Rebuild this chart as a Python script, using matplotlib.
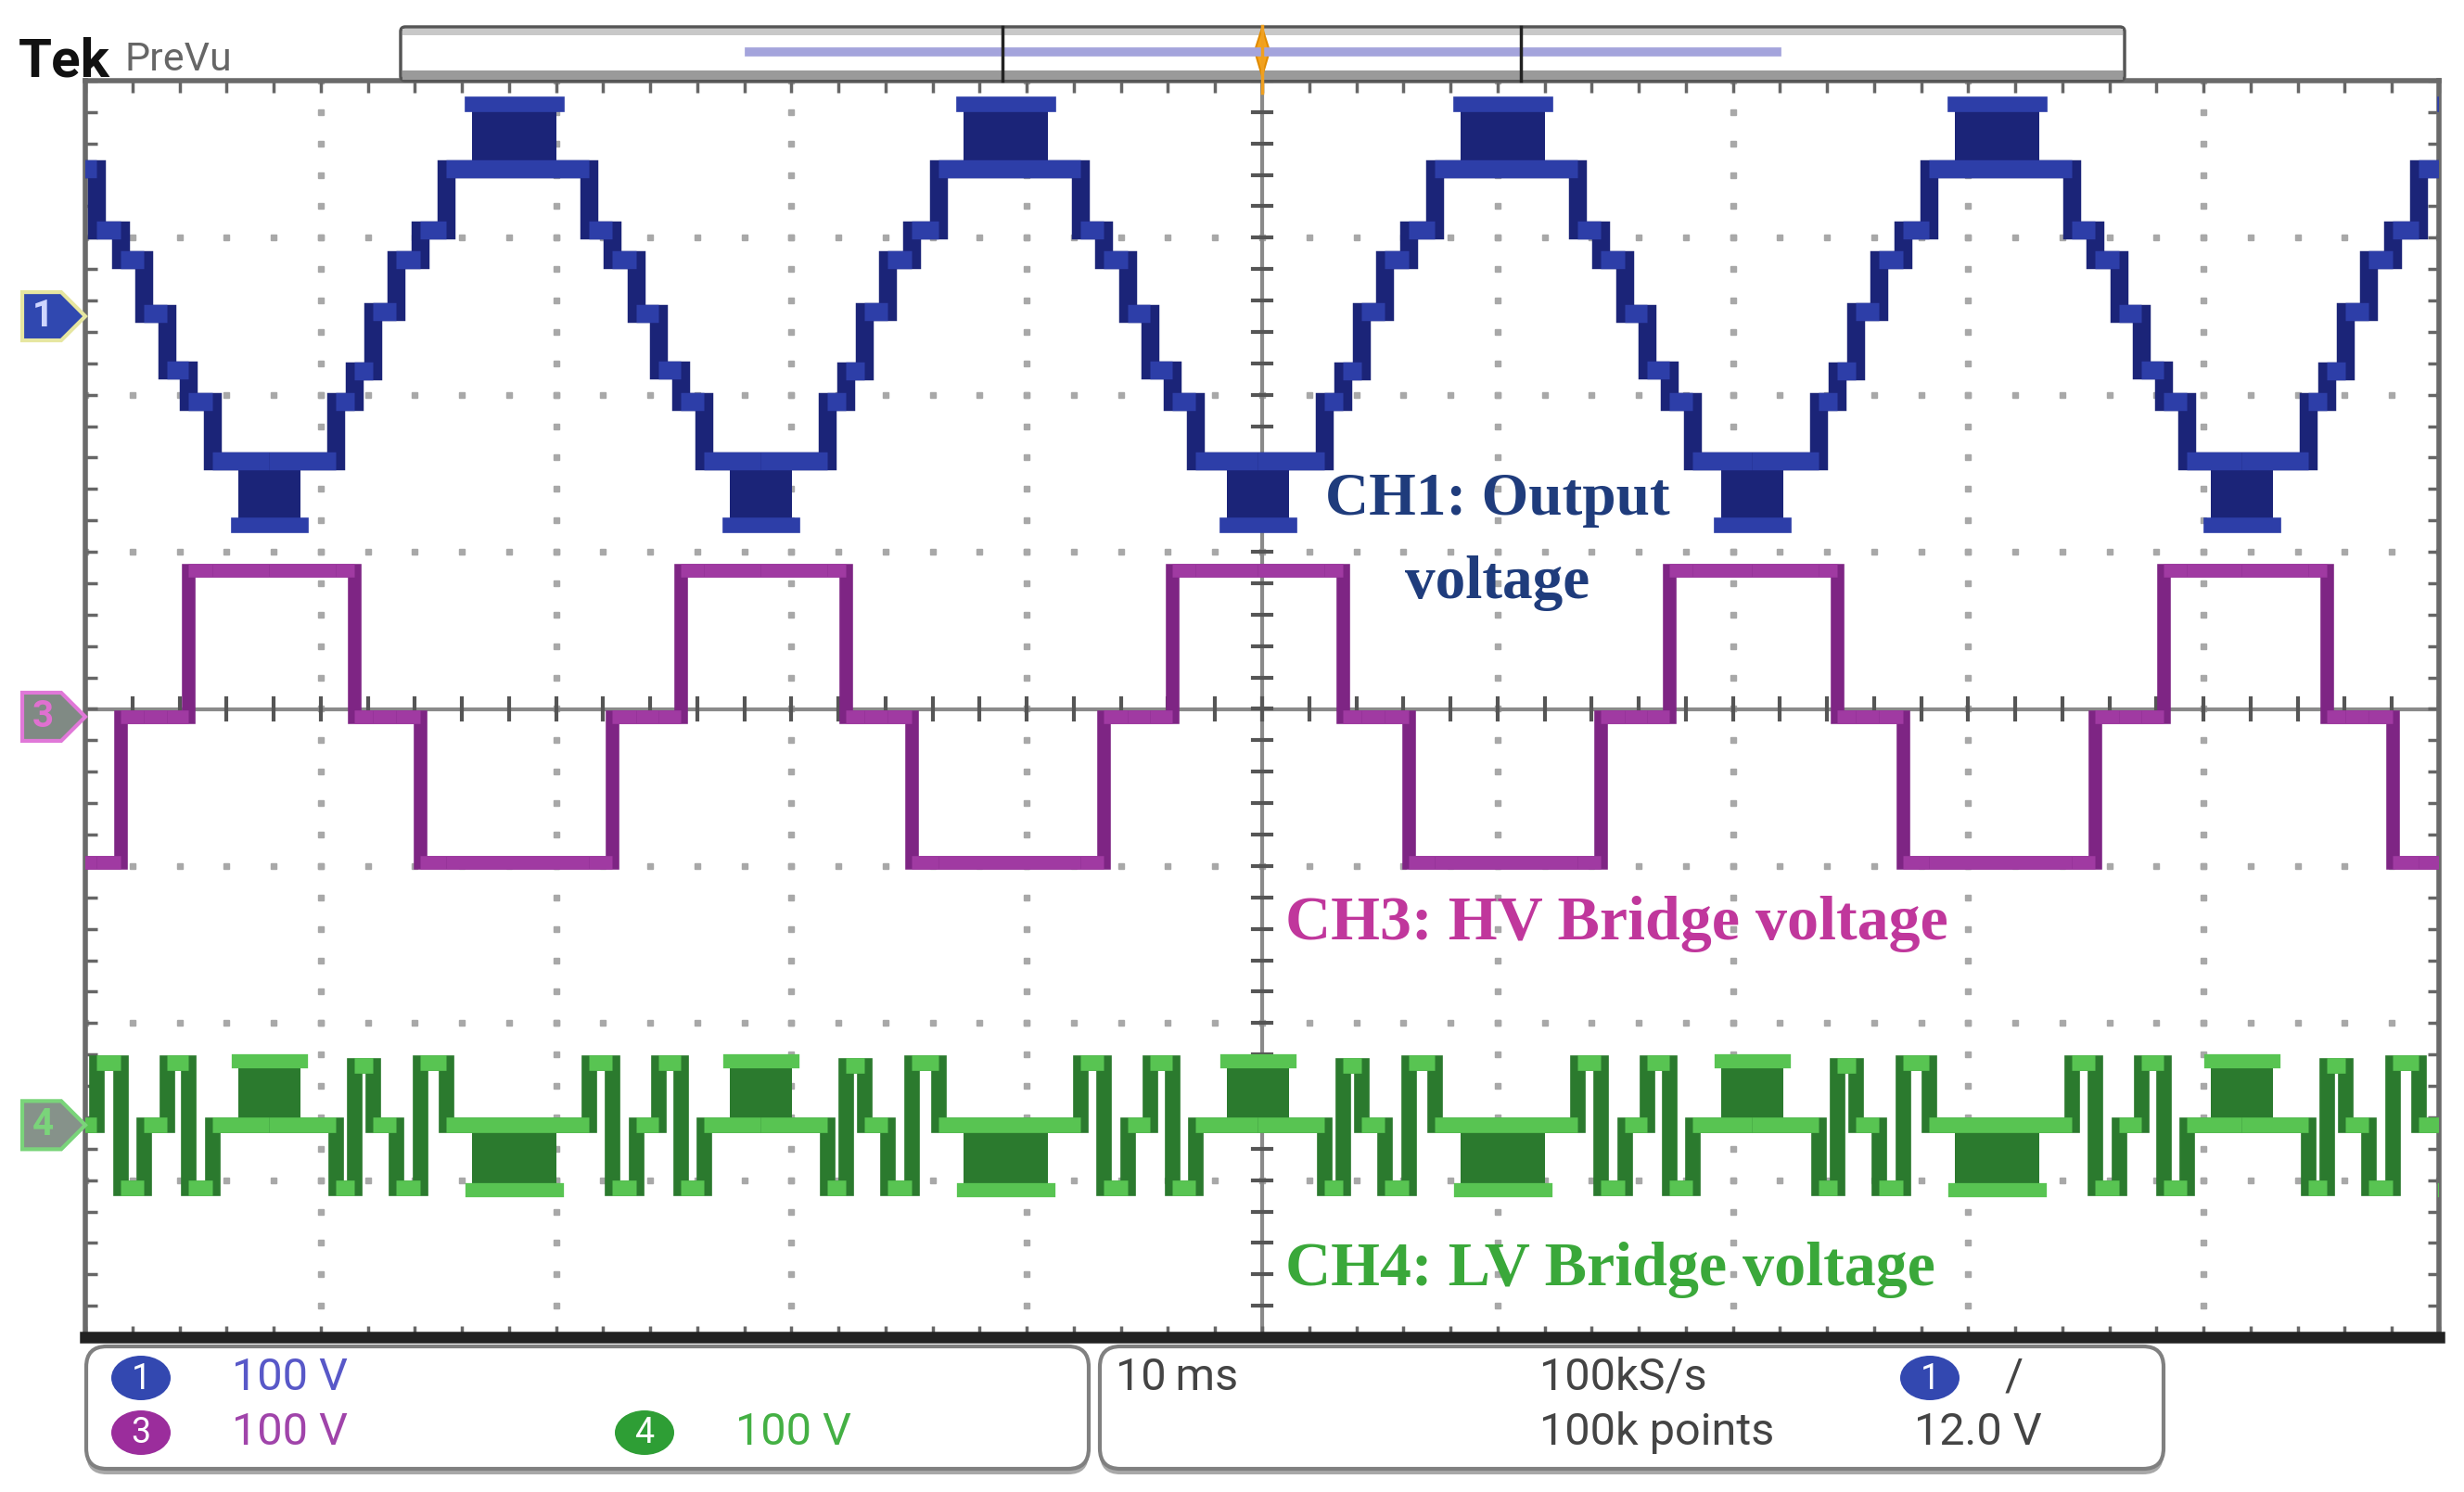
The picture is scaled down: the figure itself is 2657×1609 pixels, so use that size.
import numpy as np
import matplotlib.pyplot as plt
from matplotlib import transforms
from matplotlib.patches import FancyBboxPatch, Polygon, Ellipse
from matplotlib.collections import LineCollection

plt.rcParams['font.family'] = ['Roboto', 'DejaVu Sans']

# ---- values: time in ms (10 ms/div), amplitude in divisions ----
# centre of each CH1 trough (start of each period)
troughs_ms = [-13.1, 7.8, 28.7, 49.8, 70.8, 91.6, 112.5]

# switching instants within one period, measured from the trough centre
edges_ms = [0.0, 2.84, 3.62, 4.41, 5.40, 6.42, 7.53, 13.59, 14.58, 15.60, 16.55, 17.49, 18.48]

# level held after each switching instant (div, relative to channel ground)
ch1_levels = [-0.92, -0.54, -0.35, 0.03, 0.36, 0.55, 0.94, 0.55, 0.36, 0.02, -0.34, -0.54, -0.92]
ch3_levels = [0.93, 0.93, 0.0, 0.0, 0.0, -0.93, -0.93, -0.93, 0.0, 0.0, 0.0, 0.93, 0.93]
ch4_levels = [0.0, -0.40, 0.38, 0.0, -0.40, 0.40, 0.0, 0.40, -0.40, 0.0, 0.40, -0.40, 0.0]

# PWM chopping windows (ms from trough centre) and their far level
pwm_trough = (-1.30, 1.34)
pwm_peak = (8.63, 12.21)
ch1_pwm = (-1.33, 1.35)     # at trough, at peak
ch4_pwm = (0.41, -0.41)

# channel ground positions (div)
ch1_off, ch3_off, ch4_off = 2.5, -0.05, -2.65

c1, c1d = '#2d3ea8', '#1b2478'
c3, c3d = '#a03aa2', '#7e2584'
c4, c4d = '#58c452', '#2b7a2e'


def staircase(levels):
    t, v, segs = [], [], []
    for t0, t1 in zip(troughs_ms[:-1], troughs_ms[1:]):
        starts = [t0 + e for e in edges_ms]
        ends = starts[1:] + [t1]
        for a, b, lv in zip(starts, ends, levels):
            t += [a, b]
            v += [lv, lv]
            segs.append([(a, lv), (b, lv)])
    return np.array(t), np.array(v), segs


fig = plt.figure(figsize=(26.57, 16.09), dpi=100)
ax = fig.add_axes([92 / 2657, 1 - 1442 / 1609, (2630 - 92) / 2657, (1442 - 87) / 1609])
ax.set_xlim(0, 100)
ax.set_ylim(-4, 4)

# dotted graticule
for i in range(1, 10):
    if i == 5:
        continue
    ys = np.arange(-4, 4.01, 0.2)
    ax.plot(np.full_like(ys, i * 10), ys, ls='none', marker='s', ms=4, color='#a8a8a8', zorder=1)
for j in [-3, -2, -1, 1, 2, 3]:
    xs = np.arange(0, 100.1, 2)
    ax.plot(xs, np.full_like(xs, j), ls='none', marker='s', ms=4, color='#a8a8a8', zorder=1)

# centre crosshair with ticks
ax.axhline(0, color='#8a8a8a', lw=3, zorder=1)
ax.axvline(50, color='#8a8a8a', lw=3, zorder=1)
for x in np.arange(0, 100.1, 2):
    ax.plot([x, x], [-0.07, 0.07], color='#555', lw=3, zorder=1)
for y in np.arange(-4, 4.01, 0.2):
    ax.plot([49.6, 50.4], [y, y], color='#555', lw=3, zorder=1)

# frame ticks
ax.set_xticks(np.arange(0, 100.1, 2))
ax.set_yticks(np.arange(-4, 4.01, 0.2))
ax.tick_params(direction='in', length=9, width=2.5, color='#666', top=True, right=True,
               labelbottom=False, labelleft=False)
for s in ax.spines.values():
    s.set_color('#6a6a6a')
    s.set_linewidth(4)
ax.spines['bottom'].set_color('#222')
ax.spines['bottom'].set_linewidth(9)

# CH3
t, v, segs = staircase(ch3_levels)
ax.plot(t, v + ch3_off, color=c3d, lw=10.5, solid_joinstyle='miter', zorder=3)
ax.add_collection(LineCollection([[(a, y + ch3_off) for a, y in s] for s in segs],
                                 colors=c3, linewidths=10.5, zorder=4))

# CH1
for t0 in troughs_ms:
    a, b = t0 + pwm_trough[0], t0 + pwm_trough[1]
    ax.fill_between([a, b], ch1_levels[0] + ch1_off, ch1_pwm[0] + ch1_off, color=c1d, lw=0, zorder=3)
    ax.plot([a, b], [ch1_pwm[0] + ch1_off] * 2, color=c1, lw=12, zorder=4)
    a, b = t0 + pwm_peak[0], t0 + pwm_peak[1]
    ax.fill_between([a, b], ch1_levels[6] + ch1_off, ch1_pwm[1] + ch1_off, color=c1d, lw=0, zorder=3)
    ax.plot([a, b], [ch1_pwm[1] + ch1_off] * 2, color=c1, lw=12, zorder=4)
t, v, segs = staircase(ch1_levels)
ax.plot(t, v + ch1_off, color=c1d, lw=14, solid_joinstyle='miter', zorder=4)
ax.add_collection(LineCollection([[(a, y + ch1_off) for a, y in s] for s in segs],
                                 colors=c1, linewidths=14, zorder=5))

# CH4
for t0 in troughs_ms:
    a, b = t0 + pwm_trough[0], t0 + pwm_trough[1]
    ax.fill_between([a, b], ch4_off, ch4_pwm[0] + ch4_off, color=c4d, lw=0, zorder=3)
    ax.plot([a, b], [ch4_pwm[0] + ch4_off] * 2, color=c4, lw=11, zorder=4)
    a, b = t0 + pwm_peak[0], t0 + pwm_peak[1]
    ax.fill_between([a, b], ch4_off, ch4_pwm[1] + ch4_off, color=c4d, lw=0, zorder=3)
    ax.plot([a, b], [ch4_pwm[1] + ch4_off] * 2, color=c4, lw=11, zorder=4)
t, v, segs = staircase(ch4_levels)
ax.plot(t, v + ch4_off, color=c4d, lw=12, solid_joinstyle='miter', zorder=4)
ax.add_collection(LineCollection([[(a, y + ch4_off) for a, y in s] for s in segs],
                                 colors=c4, linewidths=12, zorder=5))

# annotations
serif = ['Liberation Serif', 'DejaVu Serif']
ax.text(60.0, 1.33, 'CH1: Output', color='#1f3c7c', fontsize=47, fontweight='bold',
        family=serif, ha='center', va='center', zorder=6)
ax.text(60.0, 0.80, 'voltage', color='#1f3c7c', fontsize=47, fontweight='bold',
        family=serif, ha='center', va='center', zorder=6)
ax.text(51.0, -1.37, 'CH3: HV Bridge voltage', color='#c0379c', fontsize=49, fontweight='bold',
        family=serif, ha='left', va='center', zorder=6)
ax.text(51.0, -3.57, 'CH4: LV Bridge voltage', color='#3aa83a', fontsize=49, fontweight='bold',
        family=serif, ha='left', va='center', zorder=6)

# overlay in pixel coordinates for the scope chrome
ov = fig.add_axes([0, 0, 1, 1], zorder=10)
ov.set_xlim(0, 2657)
ov.set_ylim(1609, 0)
ov.axis('off')

ov.text(20, 82, 'Tek', fontsize=42, fontweight='bold', color='#111', va='baseline')
ov.text(135, 76, 'PreVu', fontsize=31, color='#666', va='baseline')

# record view bar
ov.add_patch(FancyBboxPatch((432, 29), 1859, 58, boxstyle='round,pad=0,rounding_size=5',
                            fc='white', ec='#555', lw=2.5))
ov.add_patch(FancyBboxPatch((434, 31), 1855, 7, boxstyle='square,pad=0', fc='#c8c8c8', ec='none'))
ov.add_patch(FancyBboxPatch((434, 76), 1855, 10, boxstyle='square,pad=0', fc='#9a9a9a', ec='none'))
ov.plot([808, 1916], [56, 56], color='#a4a4dc', lw=7)
for x in [1081, 1640]:
    ov.plot([x, x], [29, 87], color='#222', lw=2.5)
ov.plot([1361, 1361], [28, 100], color='#f0a020', lw=2.5)
ov.add_patch(Polygon([(1361, 30), (1369, 55), (1361, 82), (1353, 55)], closed=True,
                     fc='#f4a41c', ec='#e08a00', lw=1.5))

# channel ground markers (y follows the channel offsets)
blend = transforms.blended_transform_factory(ov.transData, ax.transData)
h = 26 / 169.4
for off, fc, ec, tc, lab in [(ch1_off, '#3048b0', '#e6e6a0', '#cfd6ff', '1'),
                             (ch3_off, '#808a84', '#e078d8', '#e070d0', '3'),
                             (ch4_off, '#86928a', '#7ad47a', '#7ad47a', '4')]:
    ov.add_patch(Polygon([(24, off - h), (66, off - h), (92, off), (66, off + h), (24, off + h)],
                         closed=True, fc=fc, ec=ec, lw=3, transform=blend))
    ov.text(46, off, lab, transform=blend, ha='center', va='center', fontsize=29,
            fontweight='bold', color=tc)

# bottom readout panels
for x0, w in [(93, 1081), (1186, 1147)]:
    ov.add_patch(FancyBboxPatch((x0, 1458), w, 132, boxstyle='round,pad=0,rounding_size=22',
                                fc='#a8a8a8', ec='none'))
    ov.add_patch(FancyBboxPatch((x0, 1452), w, 132, boxstyle='round,pad=0,rounding_size=22',
                                fc='white', ec='#808080', lw=3))

badges = [(152, 1486, '#3348b0', '1'), (152, 1545, '#9b2d9c', '3'),
          (695, 1545, '#2e9e35', '4'), (2081, 1486, '#3348b0', '1')]
for x, y, col, lab in badges:
    ov.add_patch(Ellipse((x, y), 64, 48, fc=col, ec='none'))
    ov.text(x, y + 1, lab, ha='center', va='center', color='white', fontsize=27)

readouts = [(250, 1486, '100 V', '#5858c8'), (250, 1545, '100 V', '#a044aa'),
            (793, 1545, '100 V', '#44b044'), (1203, 1486, '10\u2009ms', '#444'),
            (1660, 1486, '100kS/s', '#444'), (1660, 1545, '100k points', '#444'),
            (2162, 1486, '/', '#444'), (2064, 1545, '12.0 V', '#444')]
for x, y, s, col in readouts:
    ov.text(x, y, s, ha='left', va='center', color=col, fontsize=35)

fig.savefig('out.png', dpi=100, facecolor='white')
